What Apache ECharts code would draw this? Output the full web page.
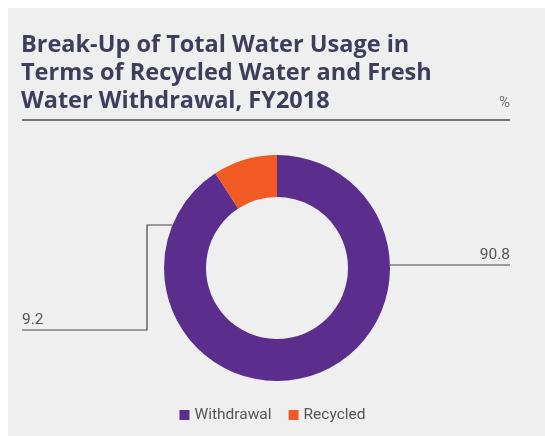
<!DOCTYPE html>
<html>
<head>
<meta charset="utf-8">
<script src="https://cdn.jsdelivr.net/npm/echarts@6/dist/echarts.min.js"></script>
<style>
  html, body { margin: 0; padding: 0; background: #fff; }
  #chart01 { width: 545px; height: 436px; }
</style>
</head>
<body>
<div id="chart01"></div>
<script>
// data
var categories = ['Withdrawal', 'Recycled'];
var shares = [90.8, 9.2];
var colors = ['#5b2e8e', '#f15a22'];

// donut geometry
var cx = 277, cy = 268, rOut = 113, rIn = 71;

var myChart = echarts.init(document.getElementById('chart01'));

var pieData = categories.map(function (name, i) {
    return { name: name, value: shares[i], itemStyle: { color: colors[i] } };
});

option = {
    backgroundColor: '#ffffff',
    animation: false,
    title: {
        text: 'Break-Up of Total Water Usage in\nTerms of Recycled Water and Fresh\nWater Withdrawal, FY2018',
        left: 21,
        top: 31,
        padding: 0,
        textStyle: {
            fontFamily: 'Open Sans',
            fontWeight: 'bold',
            fontSize: 23.5,
            lineHeight: 28,
            color: '#3c3e5b'
        }
    },
    legend: {
        data: categories,
        left: 'center',
        top: 402,
        icon: 'rect',
        itemWidth: 10,
        itemHeight: 10,
        itemGap: 17,
        itemStyle: { borderWidth: 0 },
        textStyle: { fontFamily: 'Roboto', fontSize: 15.5, color: '#555' }
    },
    graphic: [
        { type: 'rect', z: -10, shape: { x: 8, y: 8, width: 545, height: 436 }, style: { fill: '#efefef' } },
        { type: 'line', shape: { x1: 22, y1: 120, x2: 510, y2: 120 }, style: { stroke: '#4a4a4a', lineWidth: 1.5 } },
        { type: 'text', x: 510, y: 111, style: { text: '%', align: 'right', verticalAlign: 'bottom', fontFamily: 'Roboto', fontSize: 15, fill: '#777' } }
    ],
    series: [
        {
            name: 'Water',
            type: 'pie',
            center: [cx, cy],
            radius: [rIn, rOut],
            startAngle: 90,
            clockwise: true,
            label: {
                show: true,
                formatter: '{c}',
                fontFamily: 'Roboto',
                fontSize: 15.5,
                color: '#555'
            },
            labelLine: {
                show: true,
                smooth: false,
                lineStyle: { color: '#444', width: 1.2 }
            },
            labelLayout: function (params) {
                if (params.dataIndex === 0) {
                    var y0 = cy - 3;
                    return {
                        x: 510, y: y0 - 2, align: 'right', verticalAlign: 'bottom',
                        labelLinePoints: [[cx + rOut, y0], [cx + rOut + 60, y0], [510, y0]]
                    };
                }
                var y1 = cy - 43;
                var x1 = cx - Math.sqrt(rOut * rOut - 43 * 43);
                return {
                    x: 22, y: 328, align: 'left', verticalAlign: 'bottom',
                    labelLinePoints: [[x1, y1], [147, y1], [147, 330], [22, 330]]
                };
            },
            data: pieData
        }
    ]
};
if (option && typeof option === "object") {
    myChart.setOption(option, true);
}
</script>
</body>
</html>
